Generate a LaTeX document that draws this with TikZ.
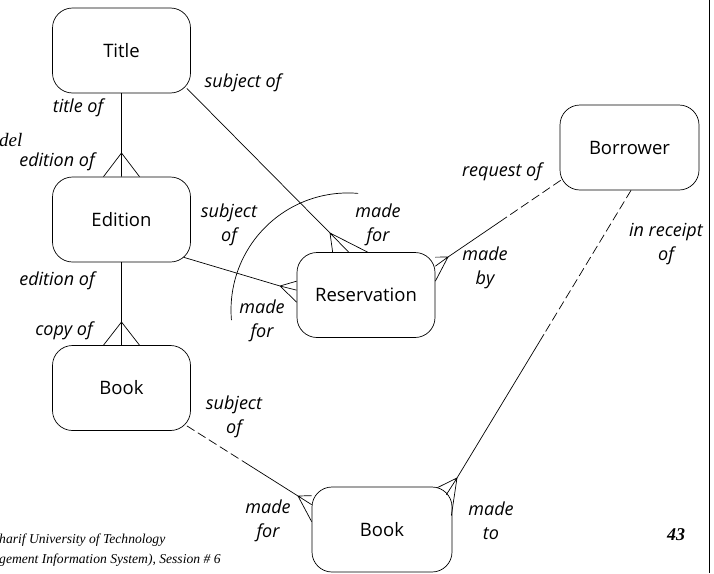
\documentclass[tikz,border=0pt]{standalone}
\usepackage{fontspec}
\setsansfont{Open Sans}
\setmainfont{Liberation Serif}
\usetikzlibrary{calc}
\begin{document}
\begin{tikzpicture}[x=1pt,y=-1pt,
  entity/.style={draw,line width=0.7pt,rounded corners=20pt,minimum width=138pt,minimum height=85pt,
    inner sep=0pt,font=\sffamily\fontsize{18.5}{21}\selectfont},
  rel/.style={font=\sffamily\itshape\fontsize{18}{24}\selectfont,align=center,inner sep=0pt},
  link/.style={line width=0.7pt},
  optional/.style={line width=0.7pt,dash pattern=on 9pt off 4pt},
  footer/.style={font=\itshape\fontsize{13.6}{15}\selectfont,anchor=west,inner sep=0pt}]
\useasboundingbox (0,0) rectangle (714,573);

% entities
\node[entity] (title)    at (121.5,50.5)  {Title};
\node[entity] (edition)  at (121.5,219.5) {Edition};
\node[entity] (book1)    at (121.5,388)   {Book};
\node[entity] (res)      at (366,295)     {Reservation};
\node[entity,minimum width=139pt] (borrower) at (629.5,147.5) {Borrower};
\node[entity,minimum width=140pt] (book2)    at (382,529.5)   {Book};

% apexes of the crow's feet
\coordinate (aEd)  at (121.5,153);
\coordinate (aBk)  at (121.5,322);
\coordinate (aTR)  at (330,233);
\coordinate (aER)  at (280,286);
\coordinate (aBR)  at (448,257);
\coordinate (aBB)  at (298,496);
\coordinate (aRB)  at (457,478);

% line start points on the rounded corners
\coordinate (sT)  at ([shift={(-4,-5)}]title.south east);
\coordinate (sE)  at ([shift={(-7,-5)}]edition.south east);
\coordinate (sB1) at ([shift={(-4,-5)}]book1.south east);
\coordinate (sBw) at ([shift={(1,-10)}]borrower.south west);
\coordinate (sBb) at ([shift={(1.5,0)}]borrower.south);

% Title -- Edition
\draw[link] (title.south) -- (aEd);
\draw[link] (aEd) -- ([shift={(-18,0)}]edition.north)
            (aEd) -- (edition.north)
            (aEd) -- ([shift={(18,0)}]edition.north);

% Edition -- Book
\draw[link] (edition.south) -- (aBk);
\draw[link] (aBk) -- ([shift={(-18,0)}]book1.north)
            (aBk) -- (book1.north)
            (aBk) -- ([shift={(18,0)}]book1.north);

% Title -- Reservation
\draw[link] (sT) -- (aTR);
\draw[link] (aTR) -- ([shift={(36,0)}]res.north west)
            (aTR) -- ([shift={(52,0)}]res.north west)
            (aTR) -- ([shift={(71,0)}]res.north west);

% Edition -- Reservation
\draw[link] (sE) -- (aER);
\draw[link] (aER) -- ([shift={(0,29)}]res.north west)
            (aER) -- ([shift={(0,38)}]res.north west)
            (aER) -- ([shift={(0,50)}]res.north west);

% Borrower -- Reservation
\draw[optional] (sBw) -- ($(sBw)!.5!(aBR)$);
\draw[link] ($(sBw)!.5!(aBR)$) -- (aBR);
\draw[link] (aBR) -- ([shift={(0,5)}]res.north east)
            (aBR) -- ([shift={(0,14)}]res.north east)
            (aBR) -- ([shift={(0,29)}]res.north east);

% Book -- Book
\draw[optional] (sB1) -- ($(sB1)!.5!(aBB)$);
\draw[link] ($(sB1)!.5!(aBB)$) -- (aBB);
\draw[link] (aBB) -- ([shift={(0,9)}]book2.north west)
            (aBB) -- ([shift={(0,18)}]book2.north west)
            (aBB) -- ([shift={(0,35)}]book2.north west);

% Borrower -- Book
\draw[optional] (sBb) -- ($(sBb)!.5!(aRB)$);
\draw[link] ($(sBb)!.5!(aRB)$) -- (aRB);
\draw[link] (aRB) -- ([shift={(-15,1)}]book2.north east)
            (aRB) -- ([shift={(-6,8)}]book2.north east)
            (aRB) -- ([shift={(-1,29)}]book2.north east);

% exclusive arc across the two Reservation links
\draw[link] (358.2,193.4) arc[start angle=85,end angle=185,radius=117pt];

% relationship names
\node[rel] (l1)  at (243,83)  {subject of};
\node[rel] (l2)  at (78,108)  {title of};
\node[rel] (l3)  at (57,162)  {edition of};
\node[rel] (l4)  at (229,225) {subject\\of};
\node[rel] (l5)  at (378,225) {made\\for};
\node[rel] (l6)  at (262,321) {made\\for};
\node[rel] (l7)  at (502,172) {request of};
\node[rel] (l8)  at (485,268) {made\\by};
\node[rel] (l9)  at (666,244) {in receipt\\of};
\node[rel] (l10) at (57,281)  {edition of};
\node[rel] (l11) at (64,331)  {copy of};
\node[rel] (l12) at (234,417) {subject\\of};
\node[rel] (l13) at (268,521) {made\\for};
\node[rel] (l14) at (491,521) {made\\to};

% slide furniture
\node[footer,font=\itshape\fontsize{19}{21}\selectfont] (hd) at (-1,140) {del};
\node[footer] (f1) at (-1,540) {harif University of Technology};
\node[footer] (f2) at (-1,560) {gement Information System), Session \# 6};
\node[font=\bfseries\itshape\fontsize{18}{20}\selectfont,inner sep=0pt] (pg) at (676,535) {43};
\draw[line width=1.2pt] (709.5,0) -- (709.5,573);
\end{tikzpicture}
\end{document}
